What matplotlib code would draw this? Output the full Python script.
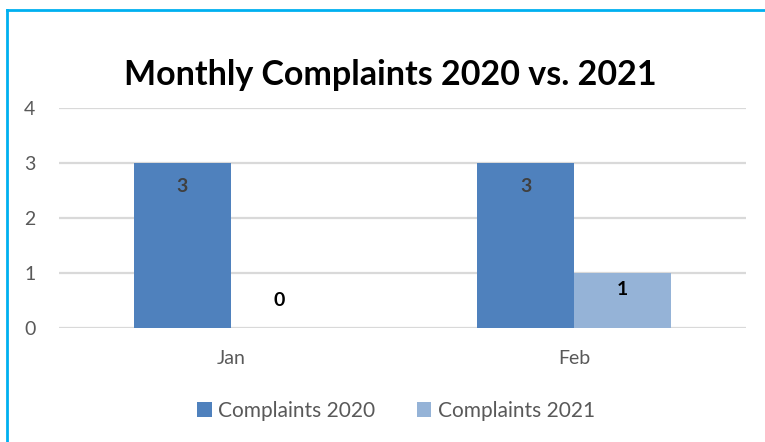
import matplotlib.pyplot as plt
import numpy as np
from matplotlib.lines import Line2D

# data
months = ['Jan', 'Feb']
complaints_2020 = [3, 3]
complaints_2021 = [0, 1]
series_names = ['Complaints 2020', 'Complaints 2021']

c2020 = '#4F81BD'
c2021 = '#95B3D7'
gray = '#595959'

fig = plt.figure(figsize=(7.65, 4.42), dpi=100)
W, H = 765, 442
# plot area in pixels: x 59..746, y 108..328
ax = fig.add_axes([59 / W, 1 - 328 / H, (746 - 59) / W, (328 - 108) / H])

x = np.arange(len(months))
bw = 0.2825
b1 = ax.bar(x - bw / 2, complaints_2020, bw, color=c2020, label=series_names[0], zorder=3)
b2 = ax.bar(x + bw / 2, complaints_2021, bw, color=c2021, label=series_names[1], zorder=3)

# data labels
for rect, v in zip(b1, complaints_2020):
    ax.annotate(str(v), (rect.get_x() + rect.get_width() / 2, v), xytext=(0, -17),
                textcoords='offset points', ha='center', va='center',
                fontsize=14, fontweight='bold', color='#404040', family='Lato')
for rect, v in zip(b2, complaints_2021):
    off = -12 if v > 0 else 20
    ax.annotate(str(v), (rect.get_x() + rect.get_width() / 2, v), xytext=(0, off),
                textcoords='offset points', ha='center', va='center',
                fontsize=14, fontweight='bold', color='black', family='Lato')

ax.set_xlim(-0.5, 1.5)
ax.set_ylim(0, 4)
ax.set_yticks([0, 1, 2, 3, 4])
ax.set_xticks(x)
ax.set_xticklabels(months)
ax.yaxis.grid(True, color='#D9D9D9', linewidth=1.6, zorder=0)
ax.set_axisbelow(True)
for s in ax.spines.values():
    s.set_visible(False)
ax.tick_params(axis='both', length=0, labelsize=14, labelcolor=gray, labelfontfamily='Lato')
ax.tick_params(axis='y', pad=17)
ax.tick_params(axis='x', pad=16)

fig.text(390 / W, 1 - 75 / H, 'Monthly Complaints 2020 vs. 2021', ha='center', va='center',
         fontsize=24.5, fontweight='bold', family='Lato', color='black')

leg = fig.legend(loc='center', bbox_to_anchor=(396 / W, 1 - 411 / H), ncol=2, frameon=False,
                 prop={'family': 'Lato', 'size': 15}, handlelength=0.7, handleheight=0.7,
                 columnspacing=2.0, handletextpad=0.3)
for t in leg.get_texts():
    t.set_color(gray)

# frame lines (left and top only are visible)
fig.add_artist(Line2D([7 / W, 7 / W], [0, 1 - 10 / H], color='#00B0F0', linewidth=2))
fig.add_artist(Line2D([7 / W, 1], [1 - 10 / H, 1 - 10 / H], color='#00B0F0', linewidth=2))

fig.savefig('out.png', dpi=100)
